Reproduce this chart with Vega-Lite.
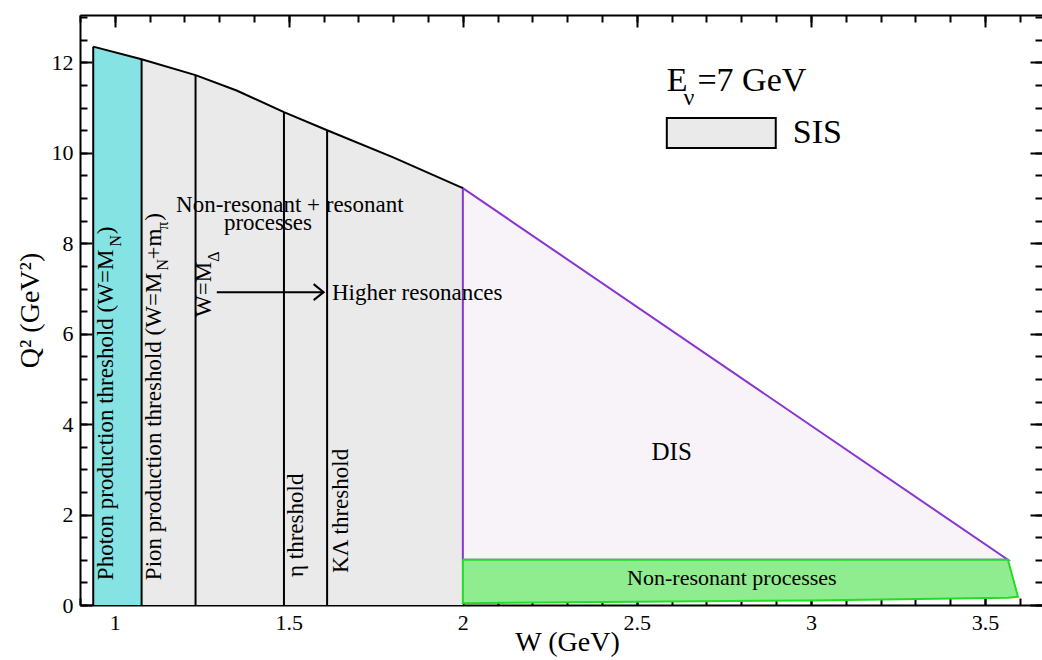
{
  "$schema": "https://vega.github.io/schema/vega-lite/v6.json",
  "width": 962,
  "height": 590,
  "autosize": {"type": "none"},
  "padding": {"left": 80, "top": 15, "right": 0, "bottom": 55},
  "background": "white",
  "config": {
    "view": {"stroke": null},
    "font": "Liberation Serif",
    "axis": {
      "domain": false, "grid": false, "tickColor": "black", "tickWidth": 2,
      "labelFont": "Liberation Serif", "titleFont": "Liberation Serif",
      "labelColor": "black", "titleColor": "black", "titleFontWeight": "normal",
      "labelFontSize": 22, "titleFontSize": 28, "domainColor": "black", "domainWidth": 2
    }
  },
  "datasets": {
    "photon": [{"W": 0.938, "Q": 12.35, "Q0": 0}, {"W": 1.077, "Q": 12.07, "Q0": 0}],
    "sis": [
      {"W": 1.077, "Q": 12.07, "Q0": 0}, {"W": 1.232, "Q": 11.72, "Q0": 0},
      {"W": 1.35, "Q": 11.38, "Q0": 0}, {"W": 1.486, "Q": 10.9, "Q0": 0},
      {"W": 1.61, "Q": 10.5, "Q0": 0}, {"W": 1.8, "Q": 9.9, "Q0": 0},
      {"W": 2.0, "Q": 9.22, "Q0": 0}
    ],
    "dis": [{"W": 2.0, "Q": 9.22, "Q0": 1.0}, {"W": 3.566, "Q": 1.0, "Q0": 1.0}],
    "nonres": [
      {"W": 2.0, "Q": 1.0, "Q0": 0.04}, {"W": 2.5, "Q": 1.0, "Q0": 0.07},
      {"W": 3.0, "Q": 1.0, "Q0": 0.1}, {"W": 3.566, "Q": 1.0, "Q0": 0.16},
      {"W": 3.595, "Q": 0.18, "Q0": 0.18}
    ],
    "boundary": [
      {"W": 0.938, "Q": 12.35}, {"W": 1.077, "Q": 12.07}, {"W": 1.232, "Q": 11.72},
      {"W": 1.35, "Q": 11.38}, {"W": 1.486, "Q": 10.9}, {"W": 1.61, "Q": 10.5},
      {"W": 1.8, "Q": 9.9}, {"W": 2.0, "Q": 9.22}
    ],
    "thresholds": [
      {"W": 0.938, "Q": 12.35, "Q0": 0}, {"W": 1.077, "Q": 12.07, "Q0": 0},
      {"W": 1.232, "Q": 11.72, "Q0": 0}, {"W": 1.486, "Q": 10.9, "Q0": 0},
      {"W": 1.61, "Q": 10.5, "Q0": 0}
    ],
    "arrow": [{"W": 1.293, "W2": 1.6, "Q": 6.92}],
    "arrowhead": [{"W": 1.6, "Q": 6.92}],
    "legendbox": [{"W": 2.586, "W2": 2.899, "Q": 10.77, "Q0": 10.11}],
    "rotmain": [
      {"W": 0.994, "Q": 0.55, "label": "Photon production threshold (W=M"},
      {"W": 0.994, "Q": 8.2, "label": ")"},
      {"W": 1.132, "Q": 0.55, "label": "Pion production threshold (W=M"},
      {"W": 1.132, "Q": 7.64, "label": "+m"},
      {"W": 1.132, "Q": 8.5, "label": ")"},
      {"W": 1.276, "Q": 6.37, "label": "W=M"},
      {"W": 1.54, "Q": 0.62, "label": "η threshold"},
      {"W": 1.67, "Q": 0.71, "label": "KΛ threshold"}
    ],
    "rotsub": [
      {"W": 1.017, "Q": 7.93, "label": "N"},
      {"W": 1.152, "Q": 7.4, "label": "N"},
      {"W": 1.152, "Q": 8.3, "label": "π"},
      {"W": 1.3, "Q": 7.59, "label": "Δ"}
    ],
    "htext": [
      {"W": 1.503, "Q": 8.85, "label": "Non-resonant + resonant"},
      {"W": 1.44, "Q": 8.45, "label": "processes"}
    ],
    "higher": [{"W": 1.624, "Q": 6.9, "label": "Higher resonances"}],
    "distext": [{"W": 2.6, "Q": 3.38, "label": "DIS"}],
    "nrtext": [{"W": 2.773, "Q": 0.6, "label": "Non-resonant processes"}],
    "legtext": [
      {"W": 2.586, "Q": 11.6, "label": "E"},
      {"W": 2.674, "Q": 11.6, "label": "=7 GeV"},
      {"W": 2.948, "Q": 10.44, "label": "SIS"}
    ],
    "legsub": [{"W": 2.634, "Q": 11.22, "label": "ν"}]
  },
  "encoding": {
    "x": {"field": "W", "type": "quantitative", "scale": {"domain": [0.9, 3.664], "nice": false, "zero": false}, "axis": null},
    "y": {"field": "Q", "type": "quantitative", "scale": {"domain": [0, 13.05], "nice": false, "zero": false}, "axis": null}
  },
  "resolve": {"axis": {"x": "independent", "y": "independent"}},
  "layer": [
    {
      "data": {"name": "photon"},
      "mark": {"type": "area", "fill": "#86e3e3", "opacity": 1},
      "encoding": {
        "x": {"field": "W", "type": "quantitative", "scale": {"domain": [0.9, 3.664], "nice": false, "zero": false},
          "axis": {"orient": "bottom", "values": [1, 1.5, 2, 2.5, 3, 3.5], "tickSize": -12, "labelPadding": 19,
            "labelExpr": "'' + datum.value", "title": "W (GeV)", "titleX": 487, "titleY": 37,
            "titleAlign": "center", "titleBaseline": "middle", "domain": true, "labelFlush": false}},
        "y": {"field": "Q", "type": "quantitative", "scale": {"domain": [0, 13.05], "nice": false, "zero": false},
          "axis": {"orient": "left", "values": [0, 2, 4, 6, 8, 10, 12], "tickSize": -12, "labelPadding": 19,
            "title": "Q² (GeV²)", "titleX": -50, "titleY": 295, "titleAlign": "center", "titleBaseline": "middle",
            "domain": true, "labelFlush": false}},
        "y2": {"field": "Q0"}
      }
    },
    {
      "data": {"name": "sis"},
      "mark": {"type": "area", "fill": "#eaeaea", "opacity": 1},
      "encoding": {
        "x": {"field": "W", "type": "quantitative", "scale": {"domain": [0.9, 3.664], "nice": false, "zero": false},
          "axis": {"orient": "bottom", "values": [0.9, 1.0, 1.1, 1.2, 1.3, 1.4, 1.5, 1.6, 1.7, 1.8, 1.9, 2.0, 2.1, 2.2, 2.3, 2.4, 2.5, 2.6, 2.7, 2.8, 2.9, 3.0, 3.1, 3.2, 3.3, 3.4, 3.5, 3.6],
            "tickSize": -7, "labels": false, "title": null, "domain": false}},
        "y": {"field": "Q", "type": "quantitative", "scale": {"domain": [0, 13.05], "nice": false, "zero": false},
          "axis": {"orient": "left", "values": [0, 0.5, 1, 1.5, 2, 2.5, 3, 3.5, 4, 4.5, 5, 5.5, 6, 6.5, 7, 7.5, 8, 8.5, 9, 9.5, 10, 10.5, 11, 11.5, 12, 12.5, 13],
            "tickSize": -7, "labels": false, "title": null, "domain": false}},
        "y2": {"field": "Q0"}
      }
    },
    {
      "data": {"name": "dis"},
      "mark": {"type": "area", "fill": "#f8f3f8", "stroke": "#8a35d0", "strokeWidth": 2, "opacity": 1},
      "encoding": {
        "x": {"field": "W", "type": "quantitative", "scale": {"domain": [0.9, 3.664], "nice": false, "zero": false},
          "axis": {"orient": "top", "values": [1, 1.5, 2, 2.5, 3, 3.5], "tickSize": -12, "labels": false, "title": null, "domain": true}},
        "y": {"field": "Q", "type": "quantitative", "scale": {"domain": [0, 13.05], "nice": false, "zero": false},
          "axis": {"orient": "right", "values": [0, 2, 4, 6, 8, 10, 12], "tickSize": -12, "labels": false, "title": null, "domain": false}},
        "y2": {"field": "Q0"}
      }
    },
    {
      "data": {"name": "nonres"},
      "mark": {"type": "area", "fill": "#8fec8f", "stroke": "#22dd22", "strokeWidth": 2, "opacity": 1},
      "encoding": {
        "x": {"field": "W", "type": "quantitative", "scale": {"domain": [0.9, 3.664], "nice": false, "zero": false},
          "axis": {"orient": "top", "values": [0.9, 1.0, 1.1, 1.2, 1.3, 1.4, 1.5, 1.6, 1.7, 1.8, 1.9, 2.0, 2.1, 2.2, 2.3, 2.4, 2.5, 2.6, 2.7, 2.8, 2.9, 3.0, 3.1, 3.2, 3.3, 3.4, 3.5, 3.6],
            "tickSize": -7, "labels": false, "title": null, "domain": false}},
        "y": {"field": "Q", "type": "quantitative", "scale": {"domain": [0, 13.05], "nice": false, "zero": false},
          "axis": {"orient": "right", "values": [0, 0.5, 1, 1.5, 2, 2.5, 3, 3.5, 4, 4.5, 5, 5.5, 6, 6.5, 7, 7.5, 8, 8.5, 9, 9.5, 10, 10.5, 11, 11.5, 12, 12.5, 13],
            "tickSize": -7, "labels": false, "title": null, "domain": false}},
        "y2": {"field": "Q0"}
      }
    },
    {
      "data": {"name": "thresholds"},
      "mark": {"type": "rule", "color": "black", "strokeWidth": 2},
      "encoding": {"y2": {"field": "Q0"}}
    },
    {
      "data": {"name": "boundary"},
      "mark": {"type": "line", "color": "black", "strokeWidth": 2},
      "encoding": {}
    },
    {
      "data": {"name": "arrow"},
      "mark": {"type": "rule", "color": "black", "strokeWidth": 2},
      "encoding": {"x2": {"field": "W2"}}
    },
    {
      "data": {"name": "arrowhead"},
      "mark": {"type": "point", "shape": "M-1,-0.8L0,0L-1,0.8", "filled": false, "stroke": "black", "strokeWidth": 2, "size": 400, "opacity": 1},
      "encoding": {}
    },
    {
      "data": {"name": "legendbox"},
      "mark": {"type": "rect", "fill": "#eaeaea", "stroke": "black", "strokeWidth": 2},
      "encoding": {"x2": {"field": "W2"}, "y2": {"field": "Q0"}}
    },
    {
      "data": {"name": "rotmain"},
      "mark": {"type": "text", "angle": 270, "align": "left", "baseline": "alphabetic", "fontSize": 23, "font": "Liberation Serif", "color": "black"},
      "encoding": {"text": {"field": "label"}}
    },
    {
      "data": {"name": "rotsub"},
      "mark": {"type": "text", "angle": 270, "align": "left", "baseline": "alphabetic", "fontSize": 16, "font": "Liberation Serif", "color": "black"},
      "encoding": {"text": {"field": "label"}}
    },
    {
      "data": {"name": "htext"},
      "mark": {"type": "text", "align": "center", "baseline": "middle", "fontSize": 23, "font": "Liberation Serif", "color": "black"},
      "encoding": {"text": {"field": "label"}}
    },
    {
      "data": {"name": "higher"},
      "mark": {"type": "text", "align": "left", "baseline": "middle", "fontSize": 23, "font": "Liberation Serif", "color": "black"},
      "encoding": {"text": {"field": "label"}}
    },
    {
      "data": {"name": "distext"},
      "mark": {"type": "text", "align": "center", "baseline": "middle", "fontSize": 25, "font": "Liberation Serif", "color": "black"},
      "encoding": {"text": {"field": "label"}}
    },
    {
      "data": {"name": "nrtext"},
      "mark": {"type": "text", "align": "center", "baseline": "middle", "fontSize": 22, "font": "Liberation Serif", "color": "black"},
      "encoding": {"text": {"field": "label"}}
    },
    {
      "data": {"name": "legtext"},
      "mark": {"type": "text", "align": "left", "baseline": "middle", "fontSize": 34, "font": "Liberation Serif", "color": "black"},
      "encoding": {"text": {"field": "label"}}
    },
    {
      "data": {"name": "legsub"},
      "mark": {"type": "text", "align": "left", "baseline": "middle", "fontSize": 24, "font": "Liberation Serif", "color": "black"},
      "encoding": {"text": {"field": "label"}}
    }
  ]
}
